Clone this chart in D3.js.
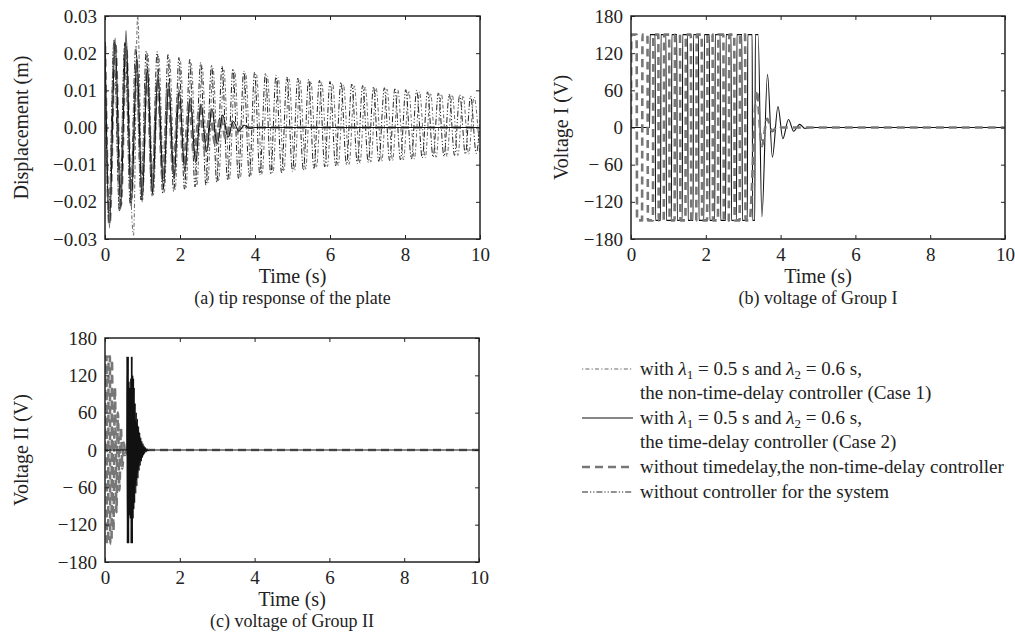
<!DOCTYPE html>
<html><head><meta charset="utf-8">
<script src="https://cdn.jsdelivr.net/npm/d3@7"></script>
<style>
body{margin:0;background:#fff;}
text{font-family:"Liberation Serif","DejaVu Serif",serif;fill:#222;}
</style></head>
<body><svg id="c" width="1015" height="643"></svg>
<script>
// ---------------- data ----------------
const timeTicks = [0, 2, 4, 6, 8, 10];
const dispTicks = [-0.03, -0.02, -0.01, 0, 0.01, 0.02, 0.03];
const dispTickLabels = ["\u22120.03", "\u22120.02", "\u22120.01", "0.00", "0.01", "0.02", "0.03"];
const voltTicks = [-180, -120, -60, 0, 60, 120, 180];
const voltTickLabels = ["\u2212180", "\u2212120", "\u2212 60", "0", "60", "120", "180"];

// (a) tip displacement turning points [t (s), y (m)]
const dispCase2 = [[0,0.023],[0.12,-0.027],[0.27,0.024],[0.42,-0.022],[0.56,0.026],[0.70,-0.021],[0.85,0.019],[0.99,-0.020],[1.13,0.0165],[1.27,-0.018],[1.41,0.0145],[1.56,-0.0165],[1.70,0.012],[1.84,-0.014],[1.98,0.010],[2.13,-0.012],[2.27,0.0080],[2.42,-0.0095],[2.56,0.0063],[2.71,-0.0065],[2.85,0.0050],[2.99,-0.0045],[3.14,0.0034],[3.28,-0.0026],[3.42,0.0016],[3.57,-0.0010],[3.71,0.0006],[3.86,-0.0002],[4.0,0],[10,0]];
const dispNoDelay = [[0,0.022],[0.12,-0.026],[0.27,0.023],[0.42,-0.021],[0.56,0.022],[0.70,-0.019],[0.84,0.018],[0.98,-0.018],[1.12,0.015],[1.26,-0.016],[1.40,0.013],[1.54,-0.014],[1.68,0.011],[1.82,-0.012],[1.96,0.009],[2.10,-0.010],[2.24,0.007],[2.38,-0.008],[2.52,0.0055],[2.66,-0.006],[2.80,0.004],[2.94,-0.0045],[3.08,0.003],[3.22,-0.003],[3.36,0.0015],[3.50,-0.0015],[3.64,0.0005],[3.8,0],[10,0]];
const dispCase1 = [[0,0.023],[0.10,-0.0245],[0.24,0.0235],[0.385,-0.0225],[0.53,0.0228],[0.76,-0.029],[0.87,0.030],[1.00,-0.0195],[1.14,0.0200],[1.29,-0.0182],[1.43,0.0192],[1.58,-0.0175],[1.72,0.0185],[1.87,-0.0168],[2.01,0.0178],[2.16,-0.0162],[2.30,0.0172],[2.45,-0.0156],[2.59,0.0166],[2.74,-0.0150],[2.88,0.0160],[3.03,-0.0145],[3.17,0.0155],[3.32,-0.0140],[3.46,0.0150],[3.61,-0.0135],[3.75,0.0146],[3.90,-0.0130],[4.04,0.0142],[4.19,-0.0126],[4.33,0.0138],[4.48,-0.0122],[4.62,0.0134],[4.77,-0.0118],[4.91,0.0130],[5.06,-0.0115],[5.20,0.0127],[5.35,-0.0112],[5.49,0.0124],[5.64,-0.0108],[5.78,0.0121],[5.93,-0.0105],[6.07,0.0118],[6.22,-0.0102],[6.36,0.0115],[6.51,-0.0099],[6.65,0.0112],[6.80,-0.0096],[6.94,0.0109],[7.09,-0.0093],[7.23,0.0106],[7.38,-0.0091],[7.52,0.0103],[7.67,-0.0089],[7.81,0.0101],[7.96,-0.0087],[8.10,0.0099],[8.25,-0.0085],[8.39,0.0096],[8.54,-0.0082],[8.68,0.0093],[8.83,-0.0080],[8.97,0.0090],[9.12,-0.0078],[9.26,0.0088],[9.41,-0.0075],[9.55,0.0086],[9.70,-0.0072],[9.84,0.0082],[9.99,-0.0070]];
const dispUncontrolled = [[0,0.023],[0.10,-0.0245],[0.24,0.0235],[0.385,-0.0225],[0.53,0.0228],[0.675,-0.021],[0.82,0.0218],[0.96,-0.0195],[1.10,0.0206],[1.25,-0.0185],[1.39,0.0204],[1.54,-0.0178],[1.68,0.0196],[1.83,-0.0172],[1.97,0.0188],[2.12,-0.0166],[2.26,0.0183],[2.40,-0.0160],[2.55,0.0175],[2.69,-0.0155],[2.84,0.0168],[2.98,-0.0148],[3.12,0.0165],[3.27,-0.0142],[3.41,0.0158],[3.56,-0.0137],[3.70,0.0152],[3.85,-0.0132],[3.99,0.0149],[4.13,-0.0128],[4.28,0.0146],[4.42,-0.0126],[4.56,0.0140],[4.71,-0.0122],[4.85,0.0136],[5.00,-0.0118],[5.14,0.0133],[5.29,-0.0115],[5.43,0.0130],[5.57,-0.0110],[5.72,0.0127],[5.86,-0.0106],[6.00,0.0124],[6.15,-0.0103],[6.29,0.0122],[6.44,-0.0100],[6.58,0.0117],[6.73,-0.0097],[6.87,0.0113],[7.02,-0.0094],[7.16,0.0110],[7.30,-0.0091],[7.45,0.0107],[7.59,-0.0089],[7.73,0.0104],[7.88,-0.0087],[8.02,0.0102],[8.17,-0.0085],[8.31,0.0100],[8.46,-0.0082],[8.60,0.0096],[8.75,-0.0080],[8.89,0.0093],[9.04,-0.0078],[9.18,0.0090],[9.32,-0.0075],[9.46,0.0088],[9.61,-0.0072],[9.75,0.0085],[9.90,-0.0070],[10,0.002]];

// (b) voltage of group I vertices [t (s), V]
const voltICase2 = [[0,0],[0.5,0],[0.51,150],[0.645,150],[0.657,-150],[0.79,-150],[0.802,150],[0.935,150],[0.947,-150],[1.08,-150],[1.092,150],[1.225,150],[1.237,-150],[1.37,-150],[1.382,150],[1.515,150],[1.527,-150],[1.66,-150],[1.672,150],[1.805,150],[1.817,-150],[1.95,-150],[1.962,150],[2.095,150],[2.107,-150],[2.24,-150],[2.252,150],[2.385,150],[2.397,-150],[2.53,-150],[2.542,150],[2.675,150],[2.687,-150],[2.82,-150],[2.832,150],[2.965,150],[2.977,-150],[3.11,-150],[3.122,150],[3.24,150],[3.252,-150],[3.31,-150],[3.325,150],[3.40,150],[3.50,-144],[3.65,86],[3.78,-48],[3.93,34],[4.06,-18],[4.21,13],[4.35,-6],[4.51,5],[4.65,-1.5],[4.8,0],[10,0]];
const voltINoDelay = [[0,0],[0.01,150],[0.15,150],[0.162,-150],[0.295,-150],[0.307,150],[0.44,150],[0.452,-150],[0.585,-150],[0.597,150],[0.73,150],[0.742,-150],[0.875,-150],[0.887,150],[1.02,150],[1.032,-150],[1.165,-150],[1.177,150],[1.31,150],[1.322,-150],[1.455,-150],[1.467,150],[1.60,150],[1.612,-150],[1.745,-150],[1.757,150],[1.89,150],[1.902,-150],[2.035,-150],[2.047,150],[2.18,150],[2.192,-150],[2.325,-150],[2.337,150],[2.47,150],[2.482,-150],[2.615,-150],[2.627,150],[2.76,150],[2.772,-150],[2.905,-150],[2.917,150],[3.05,150],[3.062,-150],[3.17,-150],[3.36,60],[3.50,-30],[3.64,14],[3.78,-6],[3.92,2],[4.05,0],[10,0]];

// (c) voltage of group II vertices [t (s), V]
const voltIICase2 = [[0,0],[0.58,0],[0.585,150],[0.595,-150],[0.605,150],[0.615,-150],[0.625,150],[0.635,-150],[0.645,110],[0.655,-105],[0.665,100],[0.675,-110],[0.685,115],[0.695,-150],[0.705,150],[0.715,-150],[0.725,150],[0.735,-150],[0.745,120],[0.755,-110],[0.765,115],[0.775,-95],[0.785,100],[0.795,-85],[0.81,75],[0.825,-70],[0.84,60],[0.855,-58],[0.87,50],[0.885,-45],[0.90,38],[0.915,-33],[0.93,28],[0.945,-25],[0.96,20],[0.975,-18],[0.99,14],[1.005,-12],[1.02,10],[1.035,-8],[1.05,6],[1.065,-5],[1.08,4],[1.10,-3],[1.12,2],[1.14,-1],[1.2,0],[10,0]];
const voltIINoDelay = [[0,0],[0.01,150],[0.04,150],[0.05,-150],[0.085,-150],[0.095,150],[0.13,150],[0.14,-150],[0.175,-150],[0.185,145],[0.225,-130],[0.265,100],[0.305,-100],[0.345,60],[0.385,-65],[0.425,35],[0.465,-30],[0.505,12],[0.545,-8],[0.58,0],[10,0]];

const legendLabels = [
  ["with ", "\u03bb1", " = 0.5 s and ", "\u03bb2", " = 0.6 s,"],
  ["the non-time-delay controller (Case 1)"],
  ["with ", "\u03bb1", " = 0.5 s and ", "\u03bb2", " = 0.6 s,"],
  ["the time-delay controller (Case 2)"],
  ["without timedelay,the non-time-delay controller"],
  ["without controller for the system"]
];

// ---------------- styles ----------------
const STY = {
  case1: {stroke:"#555", width:0.9, dash:"1.2,2.2,4,2.2"},
  unc:   {stroke:"#222", width:1.0, dash:"6,2,1.2,2,1.2,2"},
  nodel: {stroke:"#777", width:2.6, dash:"8,5"},
  case2: {stroke:"#111", width:1.1, dash:null}
};

const svg = d3.select("#c");
const FS = 19;

function panel(cfg){
  const x = d3.scaleLinear().domain([0,10]).range([cfg.x0, cfg.x1]);
  const y = d3.scaleLinear().domain([cfg.ticks[0], cfg.ticks[cfg.ticks.length-1]]).range([cfg.y1, cfg.y0]);
  const id = "clip" + cfg.name;
  svg.append("clipPath").attr("id", id).append("rect")
    .attr("x", cfg.x0).attr("y", cfg.y0).attr("width", cfg.x1-cfg.x0).attr("height", cfg.y1-cfg.y0);
  const g = svg.append("g").attr("clip-path", `url(#${id})`);
  const line = d3.line().x(d=>x(d[0])).y(d=>y(d[1])).curve(d3.curveMonotoneX);
  cfg.series.forEach(s=>{
    const st = STY[s.style];
    g.append("path").datum(s.data).attr("d", line)
      .attr("fill","none").attr("stroke", st.stroke).attr("stroke-width", st.width)
      .attr("stroke-dasharray", st.dash).attr("stroke-linejoin","round");
  });
  const bottom = d3.axisBottom(x).tickValues(timeTicks).tickSizeInner(-4).tickSizeOuter(0).tickPadding(9).tickFormat(d3.format("d"));
  const top = d3.axisTop(x).tickValues(timeTicks).tickSizeInner(-4).tickSizeOuter(0).tickFormat("");
  const left = d3.axisLeft(y).tickValues(cfg.ticks).tickSizeInner(-4).tickSizeOuter(0).tickPadding(8)
      .tickFormat((d,i)=>cfg.labels[i]);
  const right = d3.axisRight(y).tickValues(cfg.ticks).tickSizeInner(-4).tickSizeOuter(0).tickFormat("");
  const axes = [
    svg.append("g").attr("transform",`translate(0,${cfg.y1})`).call(bottom),
    svg.append("g").attr("transform",`translate(0,${cfg.y0})`).call(top),
    svg.append("g").attr("transform",`translate(${cfg.x0},0)`).call(left),
    svg.append("g").attr("transform",`translate(${cfg.x1},0)`).call(right)
  ];
  axes.forEach(a=>{
    a.select(".domain").remove();
    a.selectAll("line").attr("stroke","#222").attr("stroke-width",1);
    a.selectAll("text").attr("font-size",FS).attr("font-family",'"Liberation Serif","DejaVu Serif",serif').attr("fill","#222");
  });
  svg.append("rect").attr("x",cfg.x0).attr("y",cfg.y0).attr("width",cfg.x1-cfg.x0).attr("height",cfg.y1-cfg.y0)
    .attr("fill","none").attr("stroke","#222").attr("stroke-width",1.5);
  const cx = (cfg.x0+cfg.x1)/2;
  svg.append("text").attr("x",cx).attr("y",cfg.y1+44).attr("text-anchor","middle").attr("font-size",20).text("Time (s)");
  svg.append("text").attr("x",cfg.yl).attr("y",(cfg.y0+cfg.y1)/2).attr("text-anchor","middle")
    .attr("transform",`rotate(-90,${cfg.yl},${(cfg.y0+cfg.y1)/2})`).attr("dy","0.35em").attr("font-size",20).text(cfg.ylabel);
  svg.append("text").attr("x",cx).attr("y",cfg.y1+65).attr("text-anchor","middle").attr("font-size",18).text(cfg.caption);
}

panel({name:"a", x0:105, x1:480, y0:16, y1:239, ticks:dispTicks, labels:dispTickLabels, yl:21,
  ylabel:"Displacement (m)", caption:"(a) tip response of the plate",
  series:[{data:dispCase1,style:"case1"},{data:dispUncontrolled,style:"unc"},{data:dispNoDelay,style:"nodel"},{data:dispCase2,style:"case2"}]});
panel({name:"b", x0:631, x1:1005, y0:16, y1:239, ticks:voltTicks, labels:voltTickLabels, yl:561,
  ylabel:"Voltage I (V)", caption:"(b) voltage of Group I",
  series:[{data:voltICase2,style:"case2"},{data:voltINoDelay,style:"nodel"}]});
panel({name:"c", x0:105, x1:479, y0:338, y1:562, ticks:voltTicks, labels:voltTickLabels, yl:21,
  ylabel:"Voltage II (V)", caption:"(c) voltage of Group II",
  series:[{data:voltIINoDelay,style:"nodel"},{data:voltIICase2,style:"case2"}]});

// ---------------- legend ----------------
const legRows = [369, 393, 418, 442, 467, 492];
const legStyles = ["case1", null, "case2", null, "nodel", "unc"];
const lg = svg.append("g");
legendLabels.forEach((parts,i)=>{
  const yy = legRows[i];
  const st = legStyles[i] ? STY[legStyles[i]] : null;
  if(st){
    lg.append("line").attr("x1",582).attr("x2",633).attr("y1",yy).attr("y2",yy)
      .attr("stroke",st.stroke).attr("stroke-width",st.width).attr("stroke-dasharray",st.dash);
  }
  const t = lg.append("text").attr("x",640).attr("y",yy+6).attr("font-size",19);
  let pending = 0;
  parts.forEach(p=>{
    if(p.startsWith("\u03bb")){
      t.append("tspan").attr("font-style","italic").attr("dy",pending||null).text("\u03bb");
      t.append("tspan").attr("font-size",13).attr("dy",4).text(p.slice(1));
      pending = -4;
    } else {
      t.append("tspan").attr("dy",pending||null).text(p);
      pending = 0;
    }
  });
});
</script></body></html>
